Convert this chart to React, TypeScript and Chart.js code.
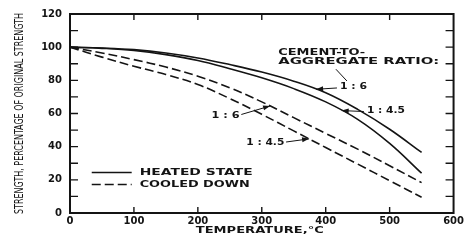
import React, { useEffect, useRef } from 'react';
import { Chart, registerables } from 'chart.js';

Chart.register(...registerables);

// ---- data ----
const temperatures = [0, 50, 100, 150, 200, 250, 300, 350, 400, 450, 500, 550];
const heated16 = [100, 99.5, 98.5, 96.5, 93.5, 89.5, 85, 79.5, 72.5, 62.5, 50.5, 36.5];
const heated145 = [100, 99.3, 98, 95.5, 92, 87, 81.5, 75, 67, 56.5, 42, 24];
const cooled16 = [100, 96.5, 92.5, 88, 82.5, 75.5, 67, 57.5, 48, 38.5, 28.5, 18.3];
const cooled145 = [100, 94, 88.5, 83.5, 77.5, 69, 59.5, 49.5, 39.5, 29.5, 19.5, 9.5];
const seriesNames = ['Heated 1:6', 'Heated 1:4.5', 'Cooled 1:6', 'Cooled 1:4.5'];
const ratioLabels = ['1 : 6', '1 : 4.5', '1 : 6', '1 : 4.5'];
const legendLabels = ['HEATED STATE', 'COOLED DOWN'];
const ratioTitle = ['CEMENT-TO-', 'AGGREGATE RATIO:'];
const xTitle = 'TEMPERATURE,°C';
const yTitle = 'STRENGTH, PERCENTAGE OF ORIGINAL STRENGTH';

const allSeries = [heated16, heated145, cooled16, cooled145];

// ---- annotation layout (data coordinates) ----
const ratioNotes = [
  { series: 0, text: [422.3, 76], width: 27, from: [417.6, 75.4], tipX: 385 },
  { series: 1, text: [464.4, 61.8], width: 38, from: [459.7, 61.2], tipX: 425 },
  { series: 2, text: [221.3, 58.8], width: 28, from: [268, 59.4], tipX: 313 },
  { series: 3, text: [275.8, 42.2], width: 38, from: [338, 42.8], tipX: 374 },
];
const titleLayout = { x: 325.7, y: [96.5, 90.9], width: [87, 161], leader: [[416, 86.7], [433.2, 79.6]] };
const legendLayout = { x1: 34, x2: 96.5, textX: 109, y: [24.4, 17.2], width: [113, 110] };

const INK = '#141414';
const DASH = [9, 4];

function interp(series: number[], xv: number) {
  for (let i = 0; i < temperatures.length - 1; i++) {
    const a = temperatures[i], b = temperatures[i + 1];
    if (xv >= a && xv <= b) {
      const t = (xv - a) / (b - a);
      return series[i] + t * (series[i + 1] - series[i]);
    }
  }
  return series[series.length - 1];
}

function fitText(ctx: CanvasRenderingContext2D, text: string, x: number, y: number, width: number, font: string) {
  ctx.save();
  ctx.font = font;
  const w = ctx.measureText(text).width;
  ctx.translate(x, y);
  ctx.scale(width / w, 1);
  ctx.textAlign = 'left';
  ctx.textBaseline = 'middle';
  ctx.fillText(text, 0, 0);
  ctx.restore();
}

function arrow(ctx: CanvasRenderingContext2D, x1: number, y1: number, x2: number, y2: number) {
  ctx.beginPath();
  ctx.moveTo(x1, y1);
  ctx.lineTo(x2, y2);
  ctx.stroke();
  const ang = Math.atan2(y2 - y1, x2 - x1);
  const L = 7, W = 2.5;
  ctx.beginPath();
  ctx.moveTo(x2, y2);
  ctx.lineTo(x2 - L * Math.cos(ang) + W * Math.sin(ang), y2 - L * Math.sin(ang) - W * Math.cos(ang));
  ctx.lineTo(x2 - L * Math.cos(ang) - W * Math.sin(ang), y2 - L * Math.sin(ang) + W * Math.cos(ang));
  ctx.closePath();
  ctx.fill();
}

const decorPlugin = {
  id: 'decor',
  afterDatasetsDraw(chart: any) {
    const { ctx, chartArea: a, scales } = chart;
    const x = scales.x, y = scales.y;
    const X = (v: number) => x.getPixelForValue(v);
    const Y = (v: number) => y.getPixelForValue(v);
    ctx.save();
    ctx.strokeStyle = INK;
    ctx.fillStyle = INK;
    // frame
    ctx.lineWidth = 2;
    ctx.strokeRect(a.left, a.top, a.right - a.left, a.bottom - a.top);
    // inside ticks
    ctx.lineWidth = 1.4;
    ctx.beginPath();
    for (let v = 100; v < 600; v += 100) {
      const px = X(v);
      ctx.moveTo(px, a.bottom); ctx.lineTo(px, a.bottom - 6);
      ctx.moveTo(px, a.top); ctx.lineTo(px, a.top + 6);
    }
    for (let v = 10; v < 120; v += 10) {
      const py = Y(v);
      ctx.moveTo(a.left, py); ctx.lineTo(a.left + 8, py);
      ctx.moveTo(a.right, py); ctx.lineTo(a.right - 8, py);
    }
    ctx.stroke();

    // ratio title
    const bold = (s: number) => `bold ${s}px "DejaVu Sans", sans-serif`;
    ratioTitle.forEach((t, i) => fitText(ctx, t, X(titleLayout.x), Y(titleLayout.y[i]), titleLayout.width[i], bold(8)));
    ctx.lineWidth = 1;
    ctx.beginPath();
    ctx.moveTo(X(titleLayout.leader[0][0]), Y(titleLayout.leader[0][1]));
    ctx.lineTo(X(titleLayout.leader[1][0]), Y(titleLayout.leader[1][1]));
    ctx.stroke();

    // ratio labels with arrows
    ratioNotes.forEach((n, i) => {
      fitText(ctx, ratioLabels[i], X(n.text[0]), Y(n.text[1]), n.width, bold(8.5));
      const tipY = interp(allSeries[n.series], n.tipX);
      ctx.lineWidth = 1;
      arrow(ctx, X(n.from[0]), Y(n.from[1]), X(n.tipX), Y(tipY));
    });

    // legend
    ctx.lineWidth = 1.6;
    legendLabels.forEach((t, i) => {
      ctx.setLineDash(i === 0 ? [] : DASH);
      ctx.beginPath();
      ctx.moveTo(X(legendLayout.x1), Y(legendLayout.y[i]));
      ctx.lineTo(X(legendLayout.x2), Y(legendLayout.y[i]));
      ctx.stroke();
      ctx.setLineDash([]);
      fitText(ctx, t, X(legendLayout.textX), Y(legendLayout.y[i]), legendLayout.width[i], bold(8.5));
    });

    // axis titles
    const xCenter = (a.left + a.right) / 2 - 2;
    fitText(ctx, xTitle, xCenter - 64, 230.5, 128, bold(8));
    ctx.save();
    ctx.translate(20, (a.top + a.bottom) / 2);
    ctx.rotate(-Math.PI / 2);
    fitText(ctx, yTitle, -100.5, 0, 201, `12px "Liberation Sans Narrow", "DejaVu Sans Condensed", sans-serif`);
    ctx.restore();
    ctx.restore();
  },
};

export default function App() {
  const ref = useRef<HTMLCanvasElement | null>(null);
  useEffect(() => {
    document.body.style.margin = '0';
    const canvas = ref.current!;
    const mk = (s: number[]) => temperatures.map((t, i) => ({ x: t, y: s[i] }));
    const tickFont = { family: '"DejaVu Sans", sans-serif', size: 10, weight: 'bold' as const };
    const chart = new Chart(canvas, {
      type: 'line',
      data: {
        datasets: allSeries.map((s, i) => ({
          label: seriesNames[i],
          data: mk(s),
          borderColor: INK,
          borderWidth: 1.6,
          borderDash: i >= 2 ? DASH : [],
          pointRadius: 0,
          fill: false,
          tension: 0.4,
        })),
      },
      options: {
        responsive: false,
        animation: false,
        devicePixelRatio: 1,
        layout: { padding: { top: 11, right: 11, left: 0, bottom: 0 } },
        plugins: { legend: { display: false }, tooltip: { enabled: false } },
        scales: {
          x: {
            type: 'linear',
            min: 0,
            max: 600,
            grid: { display: false, drawTicks: false },
            border: { display: false },
            ticks: { stepSize: 100, color: INK, font: tickFont, padding: 2, maxRotation: 0 },
            afterFit: (s: any) => { s.height = 30; },
          },
          y: {
            type: 'linear',
            min: 0,
            max: 120,
            grid: { display: false, drawTicks: false },
            border: { display: false },
            ticks: { stepSize: 20, color: INK, font: tickFont, padding: 8 },
            afterFit: (s: any) => { s.width = 70; },
          },
        },
      },
      plugins: [decorPlugin],
    });
    return () => chart.destroy();
  }, []);
  return (
    <div style={{ width: 466, height: 243, background: '#fff' }}>
      <canvas ref={ref} width={466} height={243} style={{ display: 'block' }} />
    </div>
  );
}
